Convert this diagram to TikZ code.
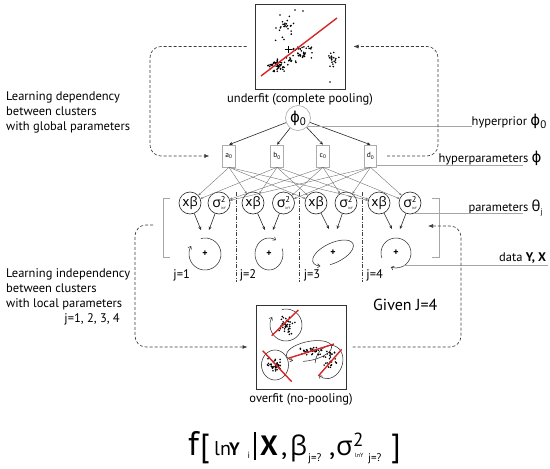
\documentclass[tikz,border=0pt]{standalone}
\usepackage{fontspec}
\setmainfont{PT Sans}
\newfontfamily\gk{Open Sans}
\newfontfamily\phif{DejaVu Sans}
\usetikzlibrary{arrows.meta,calc}
\definecolor{redline}{RGB}{215,38,38}
\definecolor{dk}{RGB}{60,60,60}
\newcommand\fs[1]{\fontsize{#1}{#1}\selectfont}
\newcommand\scat[5]{\foreach \ii in {1,...,#5}{\fill ({#1+#3*(rnd+rnd-1)},{#2+#4*(rnd+rnd-1)}) circle (0.9);}}
\newcommand\plusm[2]{\draw[line width=0.9pt] (#1-3.5,#2) -- (#1+3.5,#2) (#1,#2-3.5) -- (#1,#2+3.5);}
\begin{document}
\begin{tikzpicture}[x=1pt,y=-1pt,
  txt/.style={inner sep=0pt, font=\fontsize{12.5}{15}\selectfont},
  hbox/.style={draw=gray!65, line width=0.6pt, minimum width=12.5pt, minimum height=22pt, inner sep=0pt, font=\fontsize{7.5}{7.5}\selectfont},
  pcirc/.style={draw=black!85, circle, line width=0.6pt, minimum size=22pt, inner sep=0pt},
  glink/.style={draw=gray!70, line width=0.45pt},
  mesh/.style={draw=black!55, line width=0.4pt, -{Stealth[length=2.6pt,width=2.2pt]}},
  harr/.style={draw=black!85, line width=0.6pt, -{Stealth[length=3.5pt,width=3pt]}},
  dloop/.style={draw=dk, line width=0.65pt, dash pattern=on 3pt off 2pt, rounded corners=11pt, -{Latex[length=5pt,width=4pt]}},
  sepline/.style={draw=black!75, line width=0.6pt, dash pattern=on 4pt off 1.5pt on 1pt off 1.5pt},
  orbit/.style={draw=black!80, line width=0.55pt, -{Straight Barb[length=2.5pt,width=4pt]}},
  fitline/.style={draw=redline, line width=1.4pt},
  bigbox/.style={draw=black!80, line width=1pt, minimum width=90pt, minimum height=85pt, inner sep=0pt},
  plusn/.style={inner sep=0pt, font=\fontsize{10}{10}\selectfont\bfseries},
  fml/.style={anchor=base west, inner sep=0pt}
]
\useasboundingbox (0,0) rectangle (550,469);

% ---------- top box (underfit)
\node[bigbox] (top) at (300,46.5) {};
\pgfmathsetseed{11}
\scat{278}{67}{12}{8}{45}
\scat{285}{28}{10}{14}{25}
\scat{303}{52}{12}{8}{35}
\scat{332}{60}{9}{9}{20}
\scat{292}{60}{6}{5}{10}
\fill (330,82) circle (0.9) (295,10) circle (0.9) (303,11) circle (0.9) (280,15) circle (0.9);
\plusm{288}{49}
\plusm{277}{62}
\draw[fitline] (261,76) -- (337,18);
\node[txt] (uflab) at (300,99) {underfit (complete pooling)};

% ---------- hyperprior
\node[draw=gray!60, circle, line width=0.7pt, minimum size=25pt, inner sep=0pt] (phi0) at (298,118)
  {\phif\fs{15}ϕ\raisebox{-3pt}{\rmfamily\fs{11}0}};

% ---------- hyperparameter boxes
\node[hbox] (a) at (229,156) {a\textsubscript{0}};
\node[hbox] (b) at (277,156) {b\textsubscript{0}};
\node[hbox] (c) at (323,156) {c\textsubscript{0}};
\node[hbox] (d) at (370.5,156) {d\textsubscript{0}};
\foreach \bx in {a,b,c,d} \draw[harr] (phi0) -- (\bx.north);

% ---------- parameter circles
\foreach \g/\xx/\ss in {1/190/219, 2/253/283.5, 3/316/346, 4/379/410} {
  \node[pcirc] (xb\g) at (\xx,203) {\fs{14}x{\gk\fs{13}β}};
  \node[pcirc] (sg\g) at (\ss,203) {{\gk\fs{14}σ}\makebox[0pt][l]{\raisebox{4.5pt}{\fs{8.5}2}}\raisebox{-2.5pt}{\fs{3.5}lnY}};
}
\foreach \g in {1,2,3,4} {
  \draw[mesh] (a.south) -- (xb\g);
  \draw[mesh] (b.south) -- (xb\g);
  \draw[mesh] (c.south) -- (sg\g);
  \draw[mesh] (d.south) -- (sg\g);
}

% ---------- data clusters
\coordinate (cl1) at (205,254);
\coordinate (cl2) at (269,254);
\coordinate (cl3) at (333,253);
\coordinate (cl4) at (396,253);
\foreach \g in {1,2,3,4} {
  \node[plusn] (pl\g) at (cl\g) {+};
  \coordinate (pa\g) at ($(cl\g)+(-4,-24)$);
  \coordinate (pb\g) at ($(cl\g)+(4,-24)$);
  \draw[harr] (xb\g) -- (pa\g);
  \draw[harr] (sg\g) -- (pb\g);
}
\draw[orbit] (cl1) ++(-105:16) arc[start angle=-105,end angle=210,radius=16];
\draw[orbit] (cl2) ++(-20:14 and 16) arc[start angle=-20,end angle=300,x radius=14,y radius=16];
\begin{scope}[shift={(333,253)}, rotate=25]
  \draw[orbit] (110:22 and 10) arc[start angle=110,end angle=-220,x radius=22,y radius=10];
\end{scope}
\draw[orbit] (cl4) ++(-200:15) arc[start angle=-200,end angle=110,radius=15];

\node[txt] (j1) at (181.7,275) {j=1};
\node[txt] (j2) at (248,275) {j=2};
\node[txt] (j3) at (312,275) {j=3};
\node[txt] (j4) at (374.7,275) {j=4};

% separators
\foreach \sx in {236,299.5,362.5} \draw[sepline] (\sx,192) -- (\sx,282);

% brackets
\draw[gray!70, line width=0.6pt] (170,198) -- (163,198) -- (163,257) -- (170,257);
\draw[gray!70, line width=0.6pt] (432,198) -- (439,198) -- (439,257) -- (432,257);
\coordinate (lbr) at (163,225);
\coordinate (rbr) at (439,226);

% ---------- right labels
\node[anchor=base west, inner sep=0pt, font=\fs{12.5}] (hp) at (471.5,125) {hyperprior {\phif\fs{15}ϕ}\raisebox{-3pt}{\fs{11}0}};
\draw[glink] (phi0.-42) -- (hp.west |- phi0.-42);
\node[anchor=base west, inner sep=0pt, font=\fs{12.5}] (hps) at (438.3,162) {hyperparameters {\phif\fs{15}ϕ}};
\coordinate (hpe) at (523,165);
\draw[glink] (hpe -| d.east) -- (hpe);
\node[anchor=base west, inner sep=0pt, font=\fs{12.5}] (prm) at (468.3,211.5) {parameters {\gk\fs{15}θ}\raisebox{-3pt}{\fs{8}j}};
\coordinate (pre) at (523,213.5);
\draw[glink] (sg4.-65) -- (sg4.-65 |- pre) -- (pre);
\node[anchor=base west, inner sep=0pt, font=\fs{12.5}] (dat) at (499,261) {data \textbf{Y, X}};
\coordinate (dte) at (548,265);
\draw[glink] ($(cl4)+(8,12)$) -- (dte);

\node[anchor=west, inner sep=0pt, font=\fs{16}] (given) at (373,305) {Given J=4};

% ---------- left labels
\node[txt, anchor=west, align=left] (tglob) at (6,112.7) {Learning dependency\\between clusters\\with global parameters};
\node[txt, anchor=west, align=left] (tloc) at (6,289.3) {Learning independency\\between clusters\\with local parameters};
\node[txt, anchor=east] (tj) at (120,319.5) {j=1, 2, 3, 4};

% ---------- bottom box (overfit)
\node[bigbox, minimum height=84pt] (bot) at (301,347) {};
\pgfmathsetseed{5}
\scat{287}{325}{10}{11}{38}
\scat{275}{365}{9}{10}{42}
\scat{310}{351}{14}{5}{34}
\scat{330}{362}{7}{11}{28}
\draw[orbit] (286,325) ++(-105:16) arc[start angle=-105,end angle=210,radius=16];
\draw[black!80, line width=0.55pt] (275,365) ellipse [x radius=13.5, y radius=15];
\begin{scope}[shift={(309,351)}, rotate=12]
  \draw[orbit] (110:23 and 9.5) arc[start angle=110,end angle=-220,x radius=23,y radius=9.5];
\end{scope}
\begin{scope}[shift={(329,362)}, rotate=-20]
  \draw[orbit] (-200:13.5 and 17) arc[start angle=-200,end angle=110,x radius=13.5,y radius=17];
\end{scope}
\draw[fitline] (271.7,335.7) -- (298.3,310);
\draw[fitline] (262.7,350.7) -- (291.7,381.7);
\draw[fitline] (288.3,358.3) -- (334,344);
\draw[fitline] (318.3,376) -- (341.7,349.3);
\node[txt] (oflab) at (301,399.5) {overfit (no-pooling)};

% ---------- dashed loops
\draw[dloop] ([xshift=-8pt]top.west) -- (150,46.5) -- (150,156) -- ([xshift=-13pt]a.west);
\draw[dloop] ([xshift=10pt]d.east) -- (438,156) -- (438,46.5) -- ([xshift=8pt]top.east);
\draw[dloop] ([xshift=-10pt]lbr) -- (135,225) -- (135,347) -- ([xshift=-8pt]bot.west);
\draw[dloop] ([xshift=6pt]bot.east) -- (461,347) -- (461,226) -- ([xshift=-11pt]rbr);

% ---------- formula
\node[fml] (f1) at (188,455) {\fs{34}f};
\node[fml] (f2) at (200,456) {\fs{32}[};
\node[fml] (f3) at (214,455) {\fs{20}ln};
\node[fml] (f4) at (229,455) {\fs{18}\textbf{Y}};
\node[fml] (f5) at (247.5,458) {\fs{9}i};
\node[fml] (f6) at (254,460) {\rule{1.6pt}{28pt}};
\node[fml] (f7) at (260,455) {\fs{28}\textbf{X}};
\node[fml] (f8) at (281,455) {\fs{28},};
\node[fml] (f9) at (290,455) {\gk\fs{27}β};
\node[fml] (f10) at (308,461) {\fs{11}j=?};
\node[fml] (f11) at (329,455) {\fs{28},};
\node[fml] (f12) at (336,455) {\gk\fs{27}σ};
\node[fml] (f13) at (353,446) {\fs{19}2};
\node[fml] (f14) at (355,457) {\fs{6}lnY};
\node[fml] (f15) at (368,461) {\fs{11}j=?};
\node[fml] (f16) at (391,456) {\fs{32}]};
\end{tikzpicture}
\end{document}
